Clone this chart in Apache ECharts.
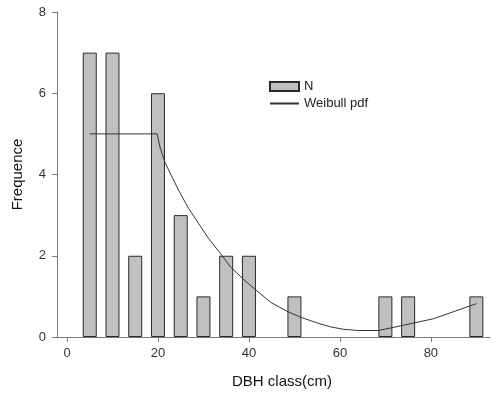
<!DOCTYPE html>
<html>
<head>
<meta charset="utf-8">
<script src="https://cdn.jsdelivr.net/npm/echarts@6/dist/echarts.min.js"></script>
<style>
html,body{margin:0;padding:0;background:#fff;}
#c{width:502px;height:396px;}
</style>
</head>
<body>
<div id="c"></div>
<script>
// Bars: DBH class centres and counts
var barX = [5, 10, 15, 20, 25, 30, 35, 40, 50, 70, 75, 90];
var barN = [7, 7, 2, 6, 3, 1, 2, 2, 1, 1, 1, 1];
// Weibull pdf curve points
var lineX = [5, 19.8, 20.5, 21.6, 24.5, 26.7, 28.9, 31.1, 33.7, 35.9, 38.8, 41.4, 44.7, 48.4, 51.3, 54.9, 57.9, 60.8, 64.1, 68.5, 74, 80.6, 90];
var lineY = [5, 5, 4.65, 4.28, 3.62, 3.17, 2.80, 2.43, 2.06, 1.73, 1.42, 1.17, 0.86, 0.63, 0.49, 0.35, 0.25, 0.19, 0.16, 0.16, 0.29, 0.45, 0.82];
var xTicks = [0, 20, 40, 60, 80];
var yTicks = [0, 2, 4, 6, 8];

var chart = echarts.init(document.getElementById('c'), null, {renderer: 'canvas'});
var font = 'Liberation Sans, Arial, sans-serif';
var axisCol = '#7a7a7a';
chart.setOption({
  animation: false,
  backgroundColor: '#ffffff',
  grid: {left: 57, top: 12, width: 433, height: 325, containLabel: false},
  legend: {
    orient: 'vertical', left: 269, top: 80, padding: 0, itemWidth: 29, itemHeight: 9, itemGap: 4,
    textStyle: {fontFamily: font, fontSize: 13, color: '#222'},
    data: [
      {name: 'N', icon: 'rect'},
      {name: 'Weibull pdf', itemStyle: {color: 'rgba(0,0,0,0)', borderWidth: 0, opacity: 0}}
    ]
  },
  xAxis: {
    type: 'value', min: -2.2, max: 93,
    splitLine: {show: false},
    axisLine: {onZero: false, lineStyle: {color: axisCol, width: 1}},
    axisTick: {show: true, length: 5, customValues: xTicks, lineStyle: {color: axisCol}},
    axisLabel: {customValues: xTicks, margin: 10, fontFamily: font, fontSize: 13, color: '#333'},
    name: 'DBH class(cm)', nameLocation: 'middle', nameGap: 37,
    nameTextStyle: {fontFamily: font, fontSize: 15, color: '#111', padding: [0, 0, 0, 17]}
  },
  yAxis: {
    type: 'value', min: 0, max: 8, interval: 2,
    splitLine: {show: false},
    axisLine: {show: true, onZero: false, lineStyle: {color: axisCol, width: 1}},
    axisTick: {show: true, length: 5, lineStyle: {color: axisCol}},
    axisLabel: {margin: 11, fontFamily: font, fontSize: 13, color: '#333'},
    name: 'Frequence', nameLocation: 'middle', nameGap: 32, nameRotate: 90,
    nameTextStyle: {fontFamily: font, fontSize: 15, color: '#111'}
  },
  series: [
    {
      name: 'N', type: 'bar', barWidth: 14,
      itemStyle: {color: '#c0c0c0', borderColor: '#2a2a2a', borderWidth: 1},
      data: barX.map(function (x, i) { return [x, barN[i]]; })
    },
    {
      name: 'Weibull pdf', type: 'line', symbol: 'none', smooth: false,
      lineStyle: {color: '#333', width: 1},
      itemStyle: {color: '#333'},
      data: lineX.map(function (x, i) { return [x, lineY[i]]; })
    }
  ]
});
</script>
</body>
</html>
